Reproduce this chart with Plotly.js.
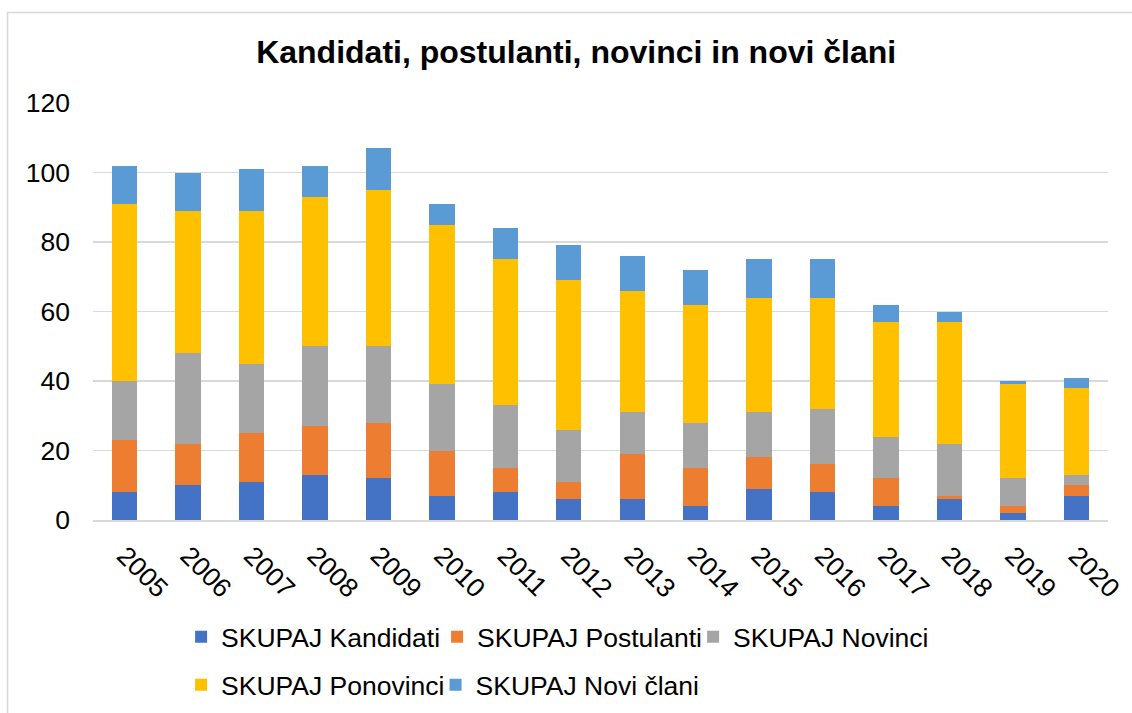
<!DOCTYPE html>
<html>
<head>
<meta charset="utf-8">
<script src="https://cdn.plot.ly/plotly-3.0.1.min.js"></script>
<style>html,body{margin:0;padding:0;background:#fff;}#chart{width:1132px;height:713px;}</style>
</head>
<body>
<div id="chart"></div>
<script>
const years = ['2005','2006','2007','2008','2009','2010','2011','2012','2013','2014','2015','2016','2017','2018','2019','2020'];
const kandidati  = [8,10,11,13,12,7,8,6,6,4,9,8,4,6,2,7];
const postulanti = [15,12,14,14,16,13,7,5,13,11,9,8,8,1,2,3];
const novinci    = [17,26,20,23,22,19,18,15,12,13,13,16,12,15,8,3];
const ponovinci  = [51,41,44,43,45,46,42,43,35,34,33,32,33,35,27,25];
const noviClani  = [11,11,12,9,12,6,9,10,10,10,11,11,5,3,1,3];
const seriesNames = ['SKUPAJ Kandidati','SKUPAJ Postulanti','SKUPAJ Novinci','SKUPAJ Ponovinci','SKUPAJ Novi člani'];
const seriesColors = ['#4472C4','#ED7D31','#A5A5A5','#FFC000','#5B9BD5'];
const seriesData = [kandidati, postulanti, novinci, ponovinci, noviClani];
const legendOf = ['legend','legend','legend','legend2','legend3'];

const traces = seriesData.map((vals, i) => ({
  type: 'bar',
  x: years,
  y: vals,
  name: seriesNames[i],
  marker: {color: seriesColors[i], line: {width: 0}},
  legend: legendOf[i],
  hoverinfo: 'x+y+name'
}));

const FONT = 'Liberation Sans, Arial, sans-serif';
const legendCommon = {
  orientation: 'h',
  xanchor: 'left',
  yanchor: 'middle',
  font: {family: FONT, size: 26.5, color: '#000'},
  traceorder: 'normal',
  bgcolor: 'rgba(0,0,0,0)'
};

const layout = {
  width: 1132, height: 713,
  margin: {l: 93, r: 24, t: 103, b: 193, autoexpand: false},
  paper_bgcolor: '#fff',
  plot_bgcolor: '#fff',
  barmode: 'stack',
  bargap: 0.6,
  title: {
    text: '<b>Kandidati, postulanti, novinci in novi člani</b>',
    font: {family: FONT, size: 32, color: '#000'},
    x: 0.509, xanchor: 'center', xref: 'container',
    y: 53, yref: 'container', yanchor: 'middle'
  },
  xaxis: {
    type: 'category',
    tickangle: 45,
    tickfont: {family: FONT, size: 26.5, color: '#000'},
    showgrid: false,
    showline: true, linecolor: '#d9d9d9', linewidth: 1.5,
    ticks: '',
    ticklabelstandoff: 8
  },
  yaxis: {
    range: [0, 120],
    dtick: 20,
    tickfont: {family: FONT, size: 26.5, color: '#000'},
    gridcolor: '#d9d9d9', gridwidth: 1.5,
    zeroline: false,
    showline: false,
    ticks: '',
    ticklabelstandoff: 22
  },
  legend: Object.assign({}, legendCommon, {x: 0.0868, y: -0.2806, entrywidth: 211}),
  legend2: Object.assign({}, legendCommon, {x: 0.0868, y: -0.3957}),
  legend3: Object.assign({}, legendCommon, {x: 0.3375, y: -0.3957}),
  shapes: [{
    type: 'rect', xref: 'paper', yref: 'paper',
    x0: -0.0842, x1: 1.2, y0: 1.217, y1: -0.6,
    line: {color: '#d9d9d9', width: 1.5},
    fillcolor: 'rgba(0,0,0,0)', layer: 'below'
  }]
};

Plotly.newPlot('chart', traces, layout, {displayModeBar: false, staticPlot: true});
</script>
</body>
</html>
